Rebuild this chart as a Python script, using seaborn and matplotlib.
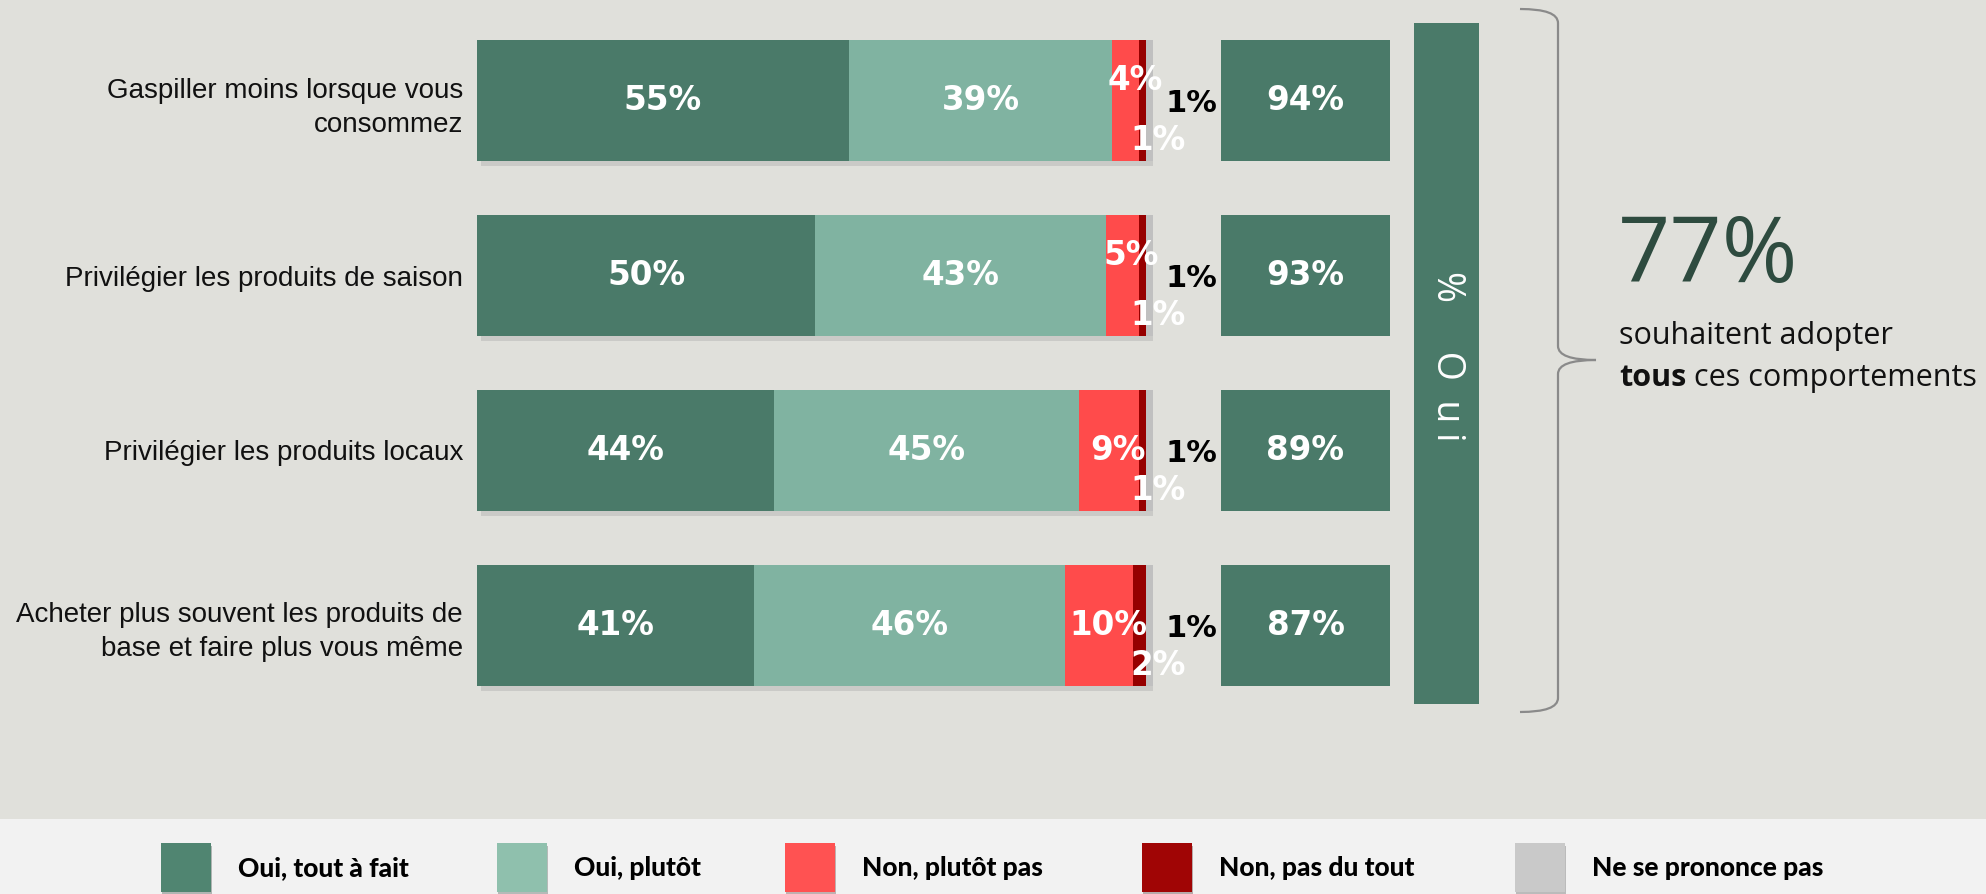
import numpy as np
import pandas as pd
import matplotlib
matplotlib.use("Agg")
import matplotlib.pyplot as plt
import seaborn as sns
from matplotlib.patches import Rectangle, PathPatch
from matplotlib.path import Path
import matplotlib.patheffects as pe

# ---------------- data ----------------
categories = [
    "Gaspiller moins lorsque vous\nconsommez",
    "Privilégier les produits de saison",
    "Privilégier les produits locaux",
    "Acheter plus souvent les produits de\nbase et faire plus vous même",
]
oui_tout_a_fait = [55, 50, 44, 41]
oui_plutot = [39, 43, 45, 46]
non_plutot_pas = [4, 5, 9, 10]
non_pas_du_tout = [1, 1, 1, 2]
ne_se_prononce_pas = [1, 1, 1, 1]
total_oui = [94, 93, 89, 87]
legend_labels = ["Oui, tout à fait", "Oui, plutôt", "Non, plutôt pas",
                 "Non, pas du tout", "Ne se prononce pas"]
oui_column_label = "%     O  u i"
headline_value = "77%"
headline_line1 = "souhaitent adopter"
headline_bold = "tous"
headline_rest = " ces comportements"

# ---------------- style ----------------
W, H = 1986, 894
BG = "#e0e0db"
BAND = "#f2f2f2"
bar_colors = ["#4a7a69", "#80b3a1", "#ff4b4b", "#960000", "#c0c0c0"]
legend_colors = ["#508571", "#8fc0ad", "#ff5252", "#a00505", "#c9c9c9"]
DARK_TXT = "#2e4b3f"

sns.set_style("white")
plt.rcParams["font.family"] = ["DejaVu Sans"]


def fx(x):
    return x / W


def fy(y):
    return 1 - y / H


def pt(px):
    return px * 0.72


fig = plt.figure(figsize=(W / 100, H / 100), dpi=100, facecolor=BG)

# legend band
fig.patches.append(Rectangle((0, 0), 1, fy(819), transform=fig.transFigure,
                             facecolor=BAND, edgecolor="none", zorder=0))

# ---------------- main stacked bars ----------------
ax = fig.add_axes([fx(477), fy(713), 676 / W, 700 / H])
ax.set_facecolor("none")
series = np.array([oui_tout_a_fait, oui_plutot, non_plutot_pas,
                   non_pas_du_tout, ne_se_prononce_pas])
cum = np.cumsum(series, axis=0)

for i in reversed(range(len(series))):
    d = pd.DataFrame({"cat": categories, "val": cum[i]})
    sns.barplot(data=d, x="val", y="cat", orient="h", color=bar_colors[i],
                width=0.69, linewidth=0, saturation=1, ax=ax)
    if i == len(series) - 1:
        for p in ax.patches:
            p.set_path_effects([pe.SimplePatchShadow(offset=(3, -4),
                                                     shadow_rgbFace="#999999",
                                                     alpha=0.3),
                                pe.Normal()])

ax.set_xlim(0, 100)
ax.set_xlabel("")
ax.set_ylabel("")
ax.set_xticks([])
for s in ax.spines.values():
    s.set_visible(False)
ax.tick_params(axis="y", length=0, pad=10)
for lbl in ax.get_yticklabels():
    lbl.set_fontfamily("Liberation Sans")
    lbl.set_fontsize(20)
    lbl.set_color("#111111")
    lbl.set_linespacing(1.4)

lab_kw = dict(fontfamily="DejaVu Sans", fontweight="bold", fontsize=23.5,
              va="center", zorder=5)
for r in range(len(categories)):
    ax.text(cum[0][r] / 2, r, f"{oui_tout_a_fait[r]}%", color="white",
            ha="center", **lab_kw)
    ax.text((cum[0][r] + cum[1][r]) / 2, r, f"{oui_plutot[r]}%", color="white",
            ha="center", **lab_kw)
    dy = 20 if non_plutot_pas[r] < 8 else 0
    ax.annotate(f"{non_plutot_pas[r]}%", xy=((cum[1][r] + cum[2][r]) / 2, r),
                xytext=(pt(9), pt(dy)), textcoords="offset points",
                color="white", ha="center", annotation_clip=False, **lab_kw)
    ax.annotate(f"{non_pas_du_tout[r]}%", xy=(cum[3][r], r),
                xytext=(pt(12), pt(-40)), textcoords="offset points",
                color="white", ha="center", annotation_clip=False, **lab_kw)
    ax.annotate(f"{ne_se_prononce_pas[r]}%", xy=(cum[4][r], r),
                xytext=(pt(12), pt(-3)), textcoords="offset points",
                color="black", ha="left", annotation_clip=False,
                **{**lab_kw, "fontsize": 22})

# ---------------- total boxes ----------------
ax2 = fig.add_axes([fx(1221), fy(713), 169 / W, 700 / H])
ax2.set_facecolor("none")
d2 = pd.DataFrame({"cat": categories, "box": [1] * len(categories)})
sns.barplot(data=d2, x="box", y="cat", orient="h", color=bar_colors[0],
            width=0.69, linewidth=0, saturation=1, ax=ax2)
ax2.set_xlim(0, 1)
ax2.axis("off")
for r, v in enumerate(total_oui):
    ax2.text(0.5, r, f"{v}%", color="white", ha="center", **lab_kw)

# ---------------- vertical "Oui %" bar ----------------
fig.patches.append(Rectangle((fx(1414), fy(704)), 65 / W, 681 / H,
                             transform=fig.transFigure,
                             facecolor=bar_colors[0], edgecolor="none"))
fig.text(fx(1447), fy(356), oui_column_label, rotation=-90, ha="center",
         va="center", color="white", fontfamily="Open Sans", fontsize=27)

# ---------------- brace ----------------
bx0, bx1, bx2 = 1520, 1558, 1596
ytop, ytip, ybot = 9, 360, 712
verts_px = [
    (bx0, ytop), (bx1, ytop), (bx1, ytop + 14),
    (bx1, ytip - 14), (bx1, ytip), (bx2, ytip),
    (bx1, ytip), (bx1, ytip + 14),
    (bx1, ybot - 14), (bx1, ybot), (bx0, ybot),
]
codes = [Path.MOVETO, Path.CURVE3, Path.CURVE3,
         Path.LINETO, Path.CURVE3, Path.CURVE3,
         Path.CURVE3, Path.CURVE3,
         Path.LINETO, Path.CURVE3, Path.CURVE3]
verts = [(fx(x), fy(y)) for x, y in verts_px]
fig.patches.append(PathPatch(Path(verts, codes), transform=fig.transFigure,
                             facecolor="none", edgecolor="#8a8a8a", lw=1.6))

# ---------------- headline ----------------
fig.text(fx(1618), fy(282), headline_value, ha="left", va="baseline",
         fontfamily="Open Sans", fontsize=66, color=DARK_TXT)
fig.text(fx(1619), fy(344), headline_line1, ha="left", va="baseline",
         fontfamily="Open Sans", fontsize=22, color="#111111")
t_bold = fig.text(fx(1619), fy(386), headline_bold, ha="left", va="baseline",
                  fontfamily="Open Sans", fontweight="bold", fontsize=22,
                  color="#111111")
fig.canvas.draw()
bb = t_bold.get_window_extent()
fig.text(bb.x1 / W, fy(386), headline_rest, ha="left", va="baseline",
         fontfamily="Open Sans", fontsize=22, color="#111111")

# ---------------- legend ----------------
sw_x = [161, 497, 785, 1142, 1515]
for x, col, lab in zip(sw_x, legend_colors, legend_labels):
    fig.patches.append(Rectangle((fx(x), fy(892)), 50 / W, 49 / H,
                                 transform=fig.transFigure, facecolor=col,
                                 edgecolor="none",
                                 path_effects=[pe.SimplePatchShadow(offset=(1, -2), alpha=0.3),
                                               pe.Normal()]))
    fig.text(fx(x + 77), fy(868), lab, ha="left", va="center",
             fontfamily="Lato", fontweight="black", fontsize=19,
             color="black")

fig.savefig("out.png", dpi=100, facecolor=BG)
